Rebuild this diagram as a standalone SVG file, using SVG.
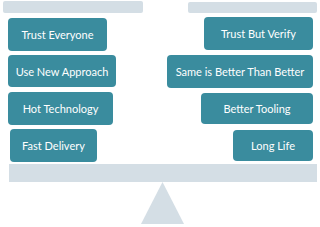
<svg xmlns="http://www.w3.org/2000/svg" width="320" height="227" viewBox="0 0 320 227">
<style>
.bar{fill:#d4dee5}
.box{fill:#3a8c9e}
.t{fill:#ffffff;font-family:Lato,"Open Sans",sans-serif;font-size:11px;text-anchor:middle;dominant-baseline:central}
</style>
<rect width="320" height="227" fill="#ffffff"/>
<g id="scale">
<rect class="bar" x="3" y="1" width="140" height="12" rx="2"/>
<rect class="bar" x="188" y="2" width="129" height="11" rx="2"/>
<rect class="bar" x="9" y="164" width="308" height="18"/>
<polygon class="bar" points="162.5,182 141,224 184,224"/>
</g>
<g id="trust-everyone"><rect class="box" x="8" y="18" width="99" height="33" rx="4"/><text class="t" x="57.5" y="34.5">Trust Everyone</text></g>
<g id="use-new-approach"><rect class="box" x="8" y="55" width="108" height="32" rx="4"/><text class="t" x="62" y="71">Use New Approach</text></g>
<g id="hot-technology"><rect class="box" x="8" y="92" width="105" height="33" rx="4"/><text class="t" x="60.5" y="108.5">Hot Technology</text></g>
<g id="fast-delivery"><rect class="box" x="10" y="129" width="87" height="33" rx="4"/><text class="t" x="53.5" y="145.5">Fast Delivery</text></g>
<g id="trust-but-verify"><rect class="box" x="204" y="17" width="109" height="33" rx="4"/><text class="t" x="258.5" y="33.5">Trust But Verify</text></g>
<g id="same-is-better"><rect class="box" x="167" y="55" width="146" height="33" rx="4"/><text class="t" x="240" y="71.5">Same is Better Than Better</text></g>
<g id="better-tooling"><rect class="box" x="201" y="93" width="112" height="31" rx="4"/><text class="t" x="257" y="108.5">Better Tooling</text></g>
<g id="long-life"><rect class="box" x="233" y="130" width="80" height="31" rx="4"/><text class="t" x="273" y="145.5">Long Life</text></g>
<g id="connectors"></g>
</svg>
